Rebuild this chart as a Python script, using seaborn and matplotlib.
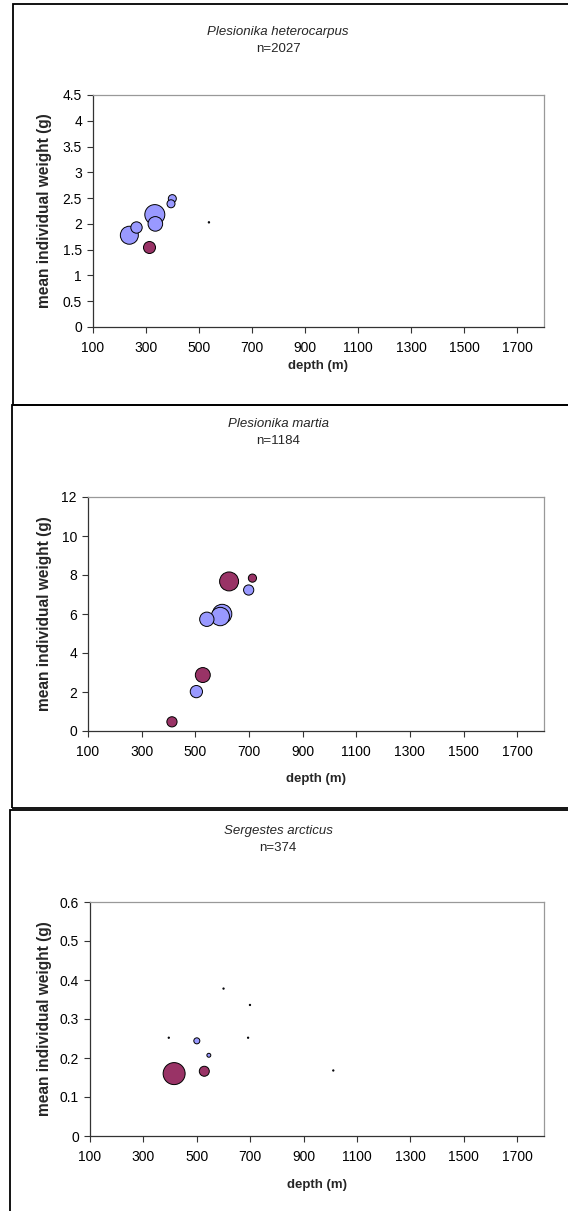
import matplotlib
matplotlib.use("Agg")
import matplotlib.pyplot as plt
from matplotlib.patches import Rectangle
import seaborn as sns
import pandas as pd

sns.set_theme(style="white")
plt.rcParams["font.family"] = ["Liberation Sans", "DejaVu Sans"]

BLUE = "#9999FF"
RED = "#993366"

# Plesionika heterocarpus
ph_depth = [237, 264, 333, 335, 399, 394, 537, 310]
ph_weight = [1.78, 1.93, 2.18, 2.00, 2.49, 2.39, 2.03, 1.56]
ph_count = [490, 195, 605, 322, 97, 97, 3, 218]
ph_series = ["a", "a", "a", "a", "a", "a", "a", "b"]

# Plesionika martia
pm_depth = [626, 713, 528, 413, 699, 543, 593, 600, 504]
pm_weight = [7.67, 7.84, 2.87, 0.47, 7.23, 5.73, 5.87, 6.00, 2.02]
pm_count = [221, 41, 137, 64, 64, 126, 208, 231, 92]
pm_series = ["b", "b", "b", "b", "a", "a", "a", "a", "a"]

# Sergestes arcticus
sa_depth = [415, 528, 500, 545, 600, 699, 395, 692, 1011]
sa_weight = [0.160, 0.166, 0.244, 0.207, 0.378, 0.336, 0.252, 0.252, 0.168]
sa_count = [281, 58, 21, 9, 1, 1, 1, 1, 1]
sa_series = ["b", "b", "a", "a", "a", "a", "a", "a", "a"]

x_ticks = [100, 300, 500, 700, 900, 1100, 1300, 1500, 1700]

panels = [
    dict(title="Plesionika heterocarpus", n="n=2027",
         depth=ph_depth, weight=ph_weight, count=ph_count, series=ph_series,
         ymax=4.5, yticks=[0, 0.5, 1, 1.5, 2, 2.5, 3, 3.5, 4, 4.5],
         ylabels=["0", "0.5", "1", "1.5", "2", "2.5", "3", "3.5", "4", "4.5"],
         rmax=10.0,
         box=(13, 4, 600, 405), ax=(93, 95, 544, 327),
         t1=32, t2=49, xl=366),
    dict(title="Plesionika martia", n="n=1184",
         depth=pm_depth, weight=pm_weight, count=pm_count, series=pm_series,
         ymax=12, yticks=[0, 2, 4, 6, 8, 10, 12],
         ylabels=["0", "2", "4", "6", "8", "10", "12"],
         rmax=9.7,
         box=(12, 405, 600, 808), ax=(88, 497, 544, 731),
         t1=424, t2=441, xl=779),
    dict(title="Sergestes arcticus", n="n=374",
         depth=sa_depth, weight=sa_weight, count=sa_count, series=sa_series,
         ymax=0.6, yticks=[0, 0.1, 0.2, 0.3, 0.4, 0.5, 0.6],
         ylabels=["0", "0.1", "0.2", "0.3", "0.4", "0.5", "0.6"],
         rmax=11.0,
         box=(10, 810, 600, 1215), ax=(90, 902, 544, 1136),
         t1=831, t2=848, xl=1185),
]

W, H = 568, 1211
fig = plt.figure(figsize=(W / 100, H / 100), dpi=100)
fig.patch.set_facecolor("white")


def fx(px):
    return px / W


def fy(py):
    return 1 - py / H


for p in panels:
    bx0, by0, bx1, by1 = p["box"]
    fig.patches.append(Rectangle((fx(bx0), fy(by1)), fx(bx1 - bx0), (by1 - by0) / H,
                                 transform=fig.transFigure, fill=False,
                                 edgecolor="black", linewidth=1.3, zorder=0))
    ax0, ay0, ax1, ay1 = p["ax"]
    ax = fig.add_axes([fx(ax0), fy(ay1), fx(ax1 - ax0), (ay1 - ay0) / H])
    ax.set_facecolor("white")

    df = pd.DataFrame({"depth": p["depth"], "weight": p["weight"],
                       "count": p["count"], "series": p["series"]})
    df = df.sort_values("count", ascending=False)
    # bubble area proportional to count, largest bubble radius rmax px
    k = (1.44 * p["rmax"]) ** 2 / df["count"].max()
    df["s"] = df["count"] * k
    for ser, col in (("a", BLUE), ("b", RED)):
        sub = df[df["series"] == ser]
        sns.scatterplot(data=sub, x="depth", y="weight", ax=ax, s=sub["s"].values,
                        color=col, edgecolor="black", linewidth=0.7,
                        legend=False, zorder=3)

    ax.set_xlim(100, 1800)
    ax.set_ylim(0, p["ymax"])
    ax.set_xticks(x_ticks)
    ax.set_xticklabels([str(t) for t in x_ticks], fontsize=10)
    ax.set_yticks(p["yticks"])
    ax.set_yticklabels(p["ylabels"], fontsize=10)
    ax.tick_params(axis="both", direction="out", length=4, width=0.8,
                   color="#333333", pad=4, labelcolor="black")
    ax.tick_params(axis="x", bottom=True, pad=6)
    ax.tick_params(axis="y", left=True)
    for side in ("left", "bottom"):
        ax.spines[side].set_color("#333333")
        ax.spines[side].set_linewidth(0.9)
    for side in ("top", "right"):
        ax.spines[side].set_color("#999999")
        ax.spines[side].set_linewidth(0.9)
    ax.set_xlabel("")
    ax.set_ylabel("")

    fig.text(fx(278), fy(p["t1"]), p["title"], ha="center", va="center",
             fontsize=9.5, fontstyle="italic")
    fig.text(fx(278), fy(p["t2"]), p["n"], ha="center", va="center", fontsize=9.5)
    fig.text(fx((ax0 + ax1) / 2), fy(p["xl"]), "depth (m)", ha="center",
             va="center", fontsize=9.5, fontweight="bold")
    fig.text(fx(45), fy((ay0 + ay1) / 2), "mean individual weight (g)",
             ha="center", va="center", rotation=90, fontsize=11.2,
             fontweight="bold")

fig.savefig("out.png", dpi=100, facecolor="white")
